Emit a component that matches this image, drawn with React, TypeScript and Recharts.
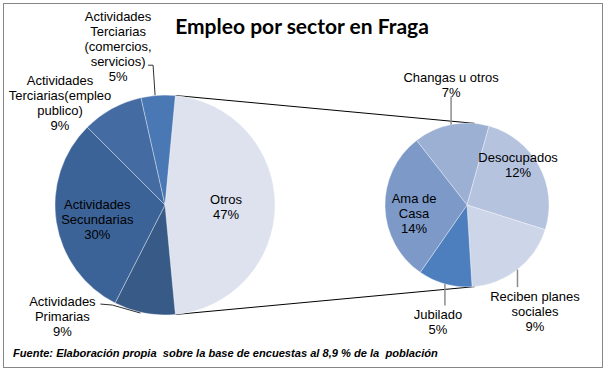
import { Cell, Customized, Pie, PieChart } from 'recharts';

// Pie principal (porcentaje del total)
const sectores = [
  'Otros',
  'Actividades\nPrimarias',
  'Actividades\nSecundarias',
  'Actividades\nTerciarias(empleo\npublico)',
  'Actividades\nTerciarias\n(comercios,\nservicios)',
];
const sectoresPct = [47, 9, 30, 9, 5];
const sectoresColores = ['#dde2ee', '#375a87', '#3c6398', '#446ba2', '#4a78b5'];

// Pie secundario (desglose de "Otros")
const otrosNombres = [
  'Changas u otros',
  'Desocupados',
  'Reciben planes\nsociales',
  'Jubilado',
  'Ama de\nCasa',
];
const otrosPct = [7, 12, 9, 5, 14];
const otrosColores = ['#9cb0d4', '#b5c3df', '#cdd6e8', '#4d7fbe', '#7c99c8'];

const titulo = 'Empleo por sector en Fraga';
const fuente =
  'Fuente: Elaboración propia  sobre la base de encuestas al 8,9 % de la  población';

const W = 610;
const H = 374;
const IZQ = { cx: 165, cy: 205, r: 110 };
const DER = { cx: 467, cy: 205, r: 82 };
const DER_INICIO = 128;
const LINEA = 15;

type Leader = 'none' | 'up' | 'down' | 'elbow' | 'diag';
interface Ubic {
  dx: number;
  dy: number;
  leader?: Leader;
}

// desplazamiento del bloque de texto respecto al borde del sector
const ubicIzq: Ubic[] = [
  { dx: -49, dy: 1.5 },
  { dx: -82, dy: 3, leader: 'diag' },
  { dx: 41, dy: -3 },
  { dx: -52, dy: -6 },
  { dx: -40, dy: -49, leader: 'elbow' },
];
const ubicDer: Ubic[] = [
  { dx: 0, dy: -40, leader: 'up' },
  { dx: -21, dy: -1.5 },
  { dx: 17.5, dy: 41, leader: 'down' },
  { dx: -7, dy: 37.5, leader: 'down' },
  { dx: 29, dy: 6 },
];

const RAD = Math.PI / 180;
const polar = (cx: number, cy: number, r: number, ang: number) => ({
  x: cx + r * Math.cos(ang * RAD),
  y: cy - r * Math.sin(ang * RAD),
});

const datosIzq = sectores.map((name, i) => ({ name, value: sectoresPct[i] }));
const datosDer = otrosNombres.map((name, i) => ({ name, value: otrosPct[i] }));

const total = sectoresPct.reduce((a, b) => a + b, 0);
const mitadOtros = (sectoresPct[0] / total) * 180;

const makeLabel =
  (ubic: Ubic[], colorLinea: string, anchoLinea: number) => (props: any) => {
    const { cx, cy, midAngle, outerRadius, index, payload, value } = props;
    const u = ubic[index];
    const e = polar(cx, cy, outerRadius, midAngle);
    const lx = e.x + u.dx;
    const ly = e.y + u.dy;
    const lineas = [...String(payload.name).split('\n'), `${value}%`];
    const n = lineas.length;
    const alto = n * LINEA;
    let leader = null;
    if (u.leader === 'up') {
      leader = `M${e.x},${e.y}L${e.x},${ly + alto / 2 - 3}`;
    } else if (u.leader === 'down') {
      leader = `M${e.x},${e.y}L${e.x},${ly - alto / 2 - 1}`;
    } else if (u.leader === 'elbow') {
      leader = `M${e.x - 3},${e.y}L${e.x - 5},${ly + 19}L${e.x - 10},${ly + 19}`;
    } else if (u.leader === 'diag') {
      leader = `M${e.x - 4},${e.y}L${lx + 50},${ly - 11}L${lx + 38},${ly - 12}`;
    }
    return (
      <g key={`lab-${index}`}>
        {leader && (
          <path d={leader} stroke={colorLinea} strokeWidth={anchoLinea} fill="none" />
        )}
        <text
          x={lx}
          y={ly}
          textAnchor="middle"
          fontFamily="'Liberation Sans', Arial, sans-serif"
          fontSize={13}
          fill="#000"
        >
          {lineas.map((t, i) => (
            <tspan
              key={i}
              x={lx}
              y={ly + (i - (n - 1) / 2) * LINEA + 5}
            >
              {t}
            </tspan>
          ))}
        </text>
      </g>
    );
  };

const Decoracion = () => {
  const a1 = polar(IZQ.cx, IZQ.cy, IZQ.r, mitadOtros);
  const a2 = polar(IZQ.cx, IZQ.cy, IZQ.r, -mitadOtros);
  const b1 = polar(DER.cx, DER.cy, DER.r, mitadOtros);
  const b2 = polar(DER.cx, DER.cy, DER.r, -mitadOtros);
  return (
    <g>
      <line x1={a1.x} y1={a1.y} x2={b1.x} y2={b1.y} stroke="#000" strokeWidth={1} />
      <line x1={a2.x} y1={a2.y} x2={b2.x} y2={b2.y} stroke="#000" strokeWidth={1} />
      <text
        x={302}
        y={34}
        textAnchor="middle"
        fontFamily="Lato, 'Open Sans', sans-serif"
        fontWeight={700}
        fontSize={21}
        fill="#000"
      >
        {titulo}
      </text>
      <text
        x={13}
        y={357}
        fontFamily="'Liberation Sans', Arial, sans-serif"
        fontWeight={700}
        fontStyle="italic"
        fontSize={11.1}
        fill="#000"
        style={{ whiteSpace: 'pre' }}
      >
        {fuente}
      </text>
      <rect x={3.5} y={3.5} width={599} height={364} fill="none" stroke="#868686" strokeWidth={1} />
    </g>
  );
};

export default function App() {
  return (
    <div style={{ position: 'absolute', left: 0, top: 0, width: W, height: H, background: '#fff' }}>
      <PieChart width={W} height={H} margin={{ top: 0, right: 0, bottom: 0, left: 0 }}>
        <Pie
          data={datosIzq}
          dataKey="value"
          nameKey="name"
          cx={IZQ.cx}
          cy={IZQ.cy}
          outerRadius={IZQ.r}
          startAngle={mitadOtros}
          endAngle={mitadOtros - 360}
          stroke="rgba(255,255,255,0.35)"
          strokeWidth={1}
          labelLine={false}
          label={makeLabel(ubicIzq, '#303030', 1)}
          isAnimationActive={false}
        >
          {datosIzq.map((_, i) => (
            <Cell key={`izq-${i}`} fill={sectoresColores[i]} />
          ))}
        </Pie>
        <Pie
          data={datosDer}
          dataKey="value"
          nameKey="name"
          cx={DER.cx}
          cy={DER.cy}
          outerRadius={DER.r}
          startAngle={DER_INICIO}
          endAngle={DER_INICIO - 360}
          stroke="rgba(255,255,255,0.35)"
          strokeWidth={1}
          labelLine={false}
          label={makeLabel(ubicDer, '#8c8c8c', 1.5)}
          isAnimationActive={false}
        >
          {datosDer.map((_, i) => (
            <Cell key={`der-${i}`} fill={otrosColores[i]} />
          ))}
        </Pie>
        <Customized component={Decoracion} />
      </PieChart>
    </div>
  );
}
